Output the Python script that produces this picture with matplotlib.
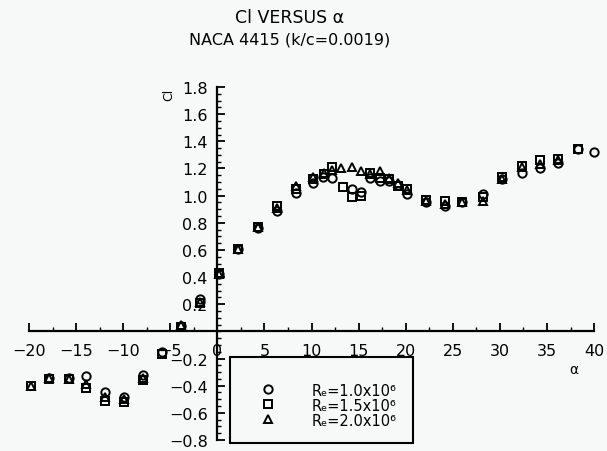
import matplotlib.pyplot as plt
from matplotlib.patches import Rectangle
from matplotlib.ticker import MultipleLocator, FixedLocator

# Re = 1.0x10^6 (circles)
alpha_c = [-17.9, -15.8, -13.9, -11.9, -9.9, -7.9, -5.9, -3.9, -1.8, 0.2, 2.2, 4.3, 6.3, 8.3,
           10.2, 11.2, 12.2, 14.3, 15.3, 16.2, 17.3, 18.2, 19.2, 20.1, 22.1, 24.2, 26.0, 28.2,
           30.2, 32.3, 34.3, 36.2, 38.3, 40.0]
cl_c = [-0.34, -0.34, -0.33, -0.45, -0.48, -0.32, -0.15, 0.04, 0.24, 0.42, 0.61, 0.76, 0.89, 1.02,
        1.09, 1.14, 1.13, 1.05, 1.03, 1.13, 1.11, 1.11, 1.08, 1.01, 0.95, 0.92, 0.95, 1.01,
        1.12, 1.17, 1.20, 1.24, 1.34, 1.32]

# Re = 1.5x10^6 (squares)
alpha_s = [-19.8, -17.9, -15.8, -13.9, -11.9, -9.9, -7.9, -5.9, -3.9, -1.8, 0.2, 2.2, 4.3, 6.3,
           8.3, 10.2, 11.3, 12.2, 13.3, 14.3, 15.3, 16.2, 17.3, 18.2, 19.2, 20.1, 22.1, 24.2,
           26.0, 28.2, 30.2, 32.3, 34.3, 36.2, 38.3]
cl_s = [-0.40, -0.35, -0.35, -0.42, -0.51, -0.52, -0.36, -0.17, 0.03, 0.21, 0.43, 0.61, 0.77, 0.92,
        1.05, 1.12, 1.16, 1.21, 1.06, 0.99, 1.00, 1.17, 1.13, 1.12, 1.07, 1.05, 0.97, 0.96,
        0.95, 0.99, 1.14, 1.22, 1.26, 1.27, 1.34]

# Re = 2.0x10^6 (triangles)
alpha_t = [-19.8, -17.9, -15.8, -13.9, -11.9, -9.9, -7.9, -3.9, -1.8, 0.2, 2.2, 4.3, 6.3, 8.3,
           10.2, 11.3, 12.2, 13.1, 14.3, 15.3, 16.2, 17.3, 18.2, 19.2, 20.1, 22.1, 24.2, 26.0,
           28.2, 30.2, 32.3, 34.3, 36.2]
cl_t = [-0.40, -0.34, -0.35, -0.39, -0.48, -0.50, -0.34, 0.05, 0.22, 0.42, 0.61, 0.77, 0.91, 1.07,
        1.14, 1.17, 1.19, 1.20, 1.21, 1.18, 1.16, 1.18, 1.13, 1.09, 1.04, 0.96, 0.94, 0.95,
        0.96, 1.12, 1.21, 1.23, 1.26]

labels = ["R\u2091=1.0x10\u2076", "R\u2091=1.5x10\u2076", "R\u2091=2.0x10\u2076"]
x_ticks = [-20, -15, -10, -5, 0, 5, 10, 15, 20, 25, 30, 35, 40]
y_ticks = [-0.8, -0.6, -0.4, -0.2, 0.2, 0.4, 0.6, 0.8, 1.0, 1.2, 1.4, 1.6, 1.8]

plt.rcParams['font.family'] = 'DejaVu Sans'
fig = plt.figure(figsize=(6.07, 4.52), dpi=100)
fig.patch.set_facecolor('#f7f9f9')
ax = fig.add_axes([0.0478, 0.0243, 0.931, 0.781])
ax.set_facecolor('#f7f9f9')

mk = dict(linestyle='none', color='black', markerfacecolor='none', markersize=6, markeredgewidth=1.4,
          clip_on=False)
ax.plot(alpha_c, cl_c, marker='o', label=labels[0], **mk)
ax.plot(alpha_s, cl_s, marker='s', label=labels[1], **mk)
ax.plot(alpha_t, cl_t, marker='^', label=labels[2], **mk)

ax.set_xlim(-20, 40)
ax.set_ylim(-0.8, 1.8)

ax.spines['left'].set_position(('data', 0))
ax.spines['bottom'].set_position(('data', 0))
ax.spines['top'].set_visible(False)
ax.spines['right'].set_visible(False)
for s in ('left', 'bottom'):
    ax.spines[s].set_linewidth(1.6)

ax.xaxis.set_major_locator(FixedLocator(x_ticks))
ax.xaxis.set_minor_locator(MultipleLocator(2.5))
ax.yaxis.set_major_locator(FixedLocator(y_ticks))
ax.yaxis.set_minor_locator(MultipleLocator(0.05))
ax.set_xticklabels([str(v).replace('-', '\u2212') for v in x_ticks])
ax.set_yticklabels([f"{v:.1f}".replace('-', '\u2212') for v in y_ticks])
ax.tick_params(which='major', direction='in', length=6, width=1.3, labelsize=11.5)
ax.tick_params(axis='x', which='major', pad=8)
ax.tick_params(axis='y', which='major', pad=7)
ax.tick_params(which='minor', direction='in', length=3, width=1.0)

ax.text(-5.2, 1.75, "Cl", rotation=90, ha='center', va='center', fontsize=9)
ax.text(37.8, -0.28, "\u03b1", ha='center', va='center', fontsize=10)

# legend box
ax.add_patch(Rectangle((0.356, -0.009), 0.324, 0.244, transform=ax.transAxes, fill=False,
                       edgecolor='black', linewidth=1.5, clip_on=False))
ax.legend(loc='center', bbox_to_anchor=(0.531, 0.099), frameon=False, fontsize=10.5,
          labelspacing=0.0, handletextpad=2.5, handlelength=1.0, borderpad=0)

fig.text(0.477, 1 - 18 / 452, "Cl VERSUS \u03b1", ha='center', va='center', fontsize=12.5)
fig.text(0.477, 1 - 40 / 452, "NACA 4415 (k/c=0.0019)", ha='center', va='center', fontsize=11.5)

fig.savefig("out.png", dpi=100, facecolor=fig.get_facecolor())
